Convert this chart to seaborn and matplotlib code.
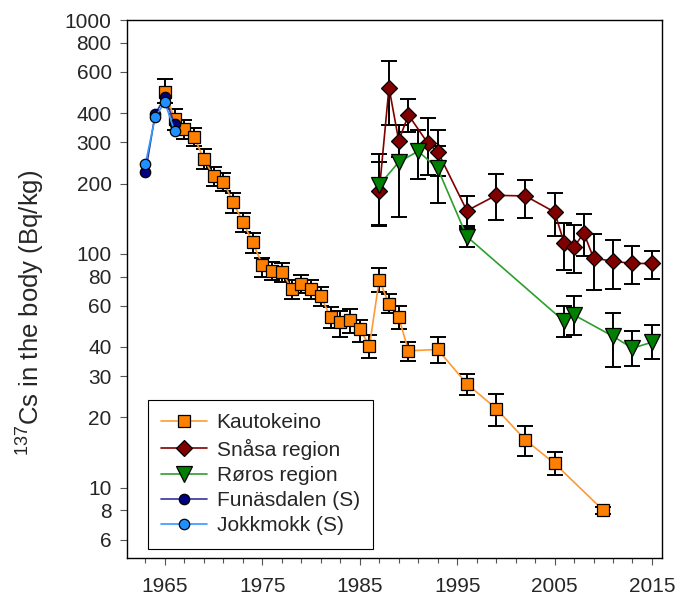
import numpy as np
import pandas as pd
import matplotlib
matplotlib.use("Agg")
import matplotlib.pyplot as plt
import seaborn as sns
from matplotlib.ticker import FixedLocator, NullLocator, FixedFormatter

# ---- data ----
kauto_years = [1965, 1966, 1967, 1968, 1969, 1970, 1971, 1972, 1973, 1974, 1975,
               1976, 1977, 1978, 1979, 1980, 1981, 1982, 1983, 1984, 1985, 1986,
               1987, 1988, 1989, 1990, 1993, 1996, 1999, 2002, 2005, 2010]
kauto_vals = [494, 377, 341, 316, 254, 215, 204, 166, 137, 112, 90,
              84.5, 84, 71, 74.5, 71, 66, 53.5, 51, 52, 47.5, 40.5,
              77.5, 61, 53.5, 38.5, 39, 27.8, 21.8, 16, 12.7, 8]
kauto_hi = [560, 415, 375, 345, 280, 235, 222, 182, 150, 123, 96,
            92, 91.5, 77, 81, 77, 72, 59, 57, 58, 52, 45,
            87, 67.5, 60, 42, 44, 30.7, 25.2, 18.3, 14.2, 8.3]
kauto_lo = [440, 340, 310, 290, 230, 195, 186, 150, 124, 101, 80,
            77, 76, 64, 68, 64, 60, 48, 44, 46, 42, 36,
            69, 55.7, 47.5, 34.7, 34, 24.9, 18.3, 13.7, 11.3, 7.7]

snasa_years = [1987, 1988, 1989, 1990, 1992, 1993, 1996, 1999, 2002, 2005,
               2006, 2007, 2008, 2009, 2011, 2013, 2015]
snasa_vals = [185, 515, 305, 393, 297, 274, 153, 178, 177, 151,
              111, 107, 123, 96, 93, 91, 91]
snasa_hi = [267, 668, 356, 462, 380, 339, 177, 219, 207, 183,
            136, 133, 148, 122, 115, 108, 103]
snasa_lo = [131, 356, 260, 331, 218, 215, 132, 140, 142, 119,
            85, 83, 98, 70, 71, 74, 78]

roros_years = [1987, 1989, 1991, 1993, 1996, 2006, 2007, 2011, 2013, 2015]
roros_vals = [197, 247, 275, 232, 118.6, 51.4, 54.8, 44.4, 39.5, 41.9]
roros_hi = [247, 356, 339, 290, 129.5, 59.6, 66, 56, 46.6, 49.4]
roros_lo = [133, 144, 210, 165, 107, 44, 44.8, 32.8, 33, 35.6]

funas_years = [1963, 1964, 1965, 1966]
funas_vals = [223, 397, 468, 358]

jokk_years = [1963, 1964, 1965, 1966]
jokk_vals = [243, 386, 445, 334]

y_ticks = [6, 8, 10, 20, 30, 40, 60, 80, 100, 200, 300, 400, 600, 800, 1000]
x_ticks = [1965, 1975, 1985, 1995, 2005, 2015]

sns.set_style("ticks")
plt.rcParams['font.family'] = ['Liberation Sans', 'DejaVu Sans']
plt.rcParams['mathtext.fontset'] = 'custom'
plt.rcParams['mathtext.rm'] = 'Liberation Sans'

fig = plt.figure(figsize=(6.9, 6.01), dpi=100)
ax = fig.add_axes([0.184, 0.0715, 0.775, 0.895])

series = [
    ("Kautokeino", kauto_years, kauto_vals, kauto_lo, kauto_hi, 's', '#FF8000', '#FF9A33', 9),
    ("Snåsa region", snasa_years, snasa_vals, snasa_lo, snasa_hi, 'D', '#800000', '#800000', 8.5),
    ("Røros region", roros_years, roros_vals, roros_lo, roros_hi, 'v', '#008000', '#2E9E2E', 11),
    ("Funäsdalen (S)", funas_years, funas_vals, None, None, 'o', '#000080', '#333399', 7.5),
    ("Jokkmokk (S)", jokk_years, jokk_vals, None, None, 'o', '#1E90FF', '#3399FF', 7.5),
]

for i, (name, xs, ys, lo, hi, mk, mcol, lcol, ms) in enumerate(series):
    if lo is not None:
        ys_a = np.array(ys)
        yerr = [ys_a - np.array(lo), np.array(hi) - ys_a]
        ax.errorbar(xs, ys, yerr=yerr, fmt='none', ecolor='black',
                    elinewidth=1.4, capsize=5.5, capthick=1.4, zorder=2 + i * 0.1)
    sns.lineplot(x=xs, y=ys, ax=ax, estimator=None, sort=False, color=lcol,
                 marker=mk, markersize=ms, markerfacecolor=mcol,
                 markeredgecolor='black', markeredgewidth=0.9,
                 linewidth=1.2, label=name, zorder=3 + i)

ax.set_yscale('log')
ax.set_ylim(5, 1000)
ax.set_xlim(1961.1, 2016)
ax.yaxis.set_major_locator(FixedLocator(y_ticks))
ax.yaxis.set_major_formatter(FixedFormatter([str(v) for v in y_ticks]))
ax.yaxis.set_minor_locator(NullLocator())
ax.xaxis.set_major_locator(FixedLocator(x_ticks))
ax.xaxis.set_minor_locator(FixedLocator(list(range(1963, 2016, 2))))
ax.tick_params(axis='both', which='major', labelsize=15, direction='out',
               length=5, width=0.8, color='#555555', pad=6)
ax.tick_params(axis='x', which='minor', direction='out', length=3.5,
               width=0.8, color='#555555')
ax.tick_params(axis='x', which='major', pad=9)
for sp in ax.spines.values():
    sp.set_linewidth(1.0)
    sp.set_color('black')

ax.set_xlabel('')
ax.set_ylabel(r'$^{137}$Cs in the body (Bq/kg)', fontsize=18.5)
ax.yaxis.set_label_coords(-0.152, 0.455)

handles, labels = ax.get_legend_handles_labels()
leg = ax.legend(handles, labels, loc='lower left', bbox_to_anchor=(0.039, 0.017),
                borderaxespad=0, fontsize=15, frameon=True, fancybox=False,
                framealpha=1, edgecolor='black', handlelength=2.2,
                handletextpad=0.45, labelspacing=0.3, borderpad=0.65)
leg.get_frame().set_linewidth(0.8)

fig.savefig('out.png', dpi=100)
